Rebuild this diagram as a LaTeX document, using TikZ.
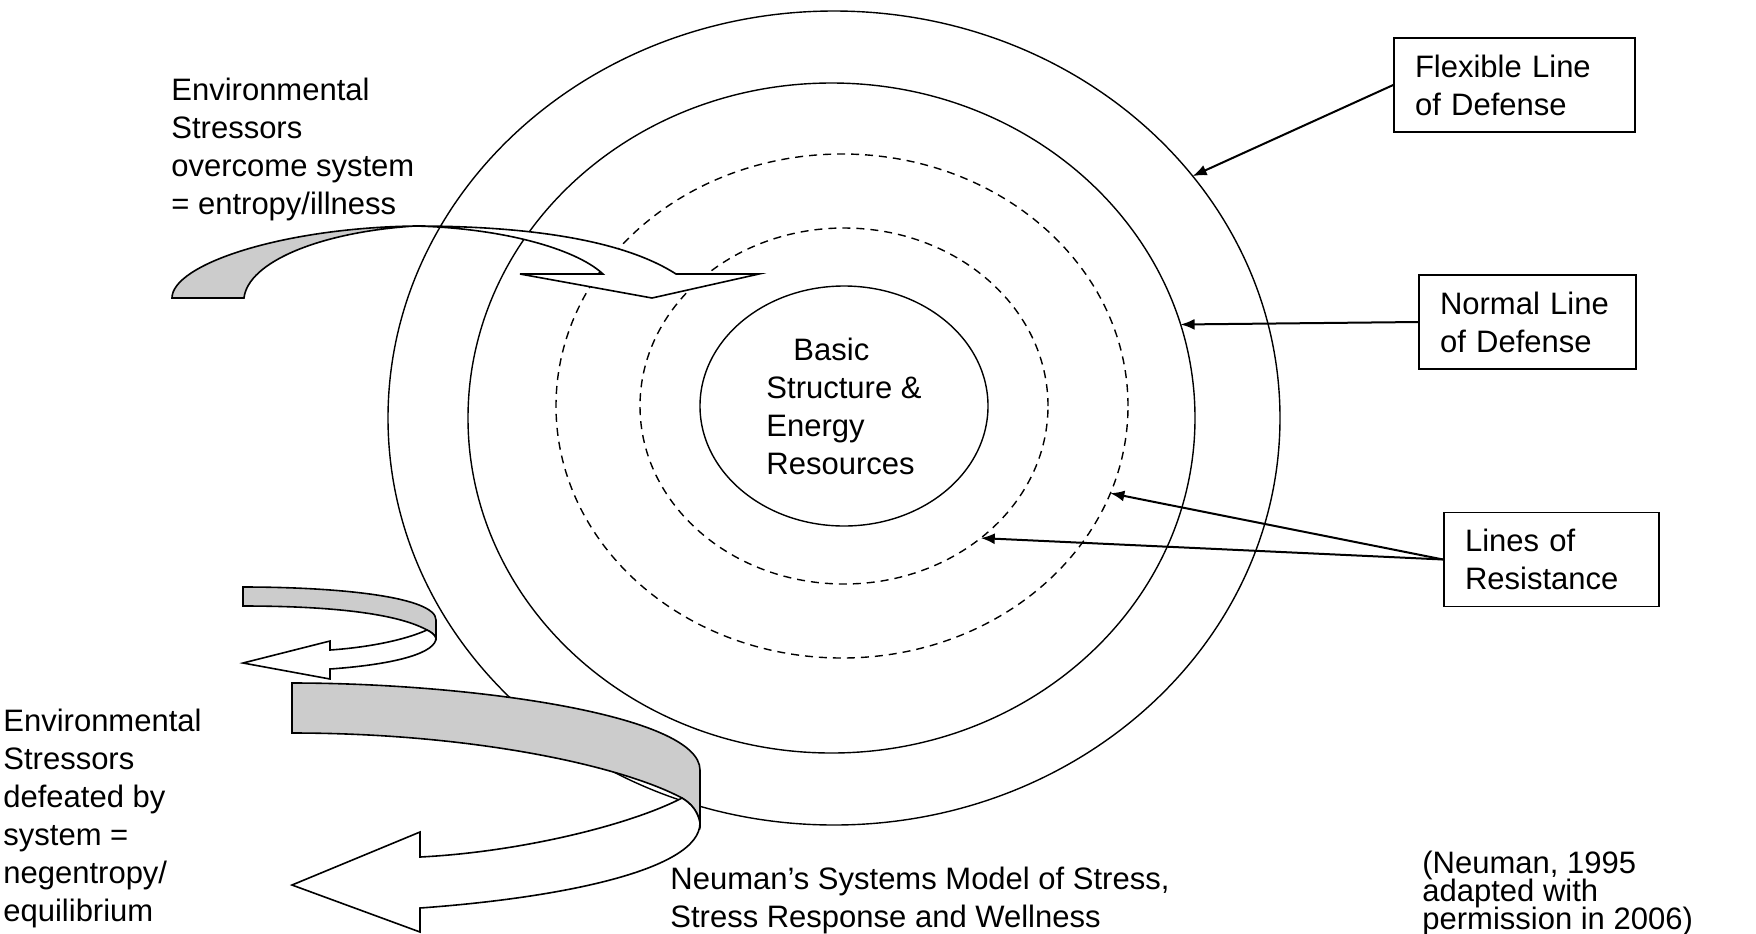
\documentclass[tikz,border=0pt]{standalone}
\usepackage{fontspec}
\setmainfont{Liberation Sans}
\usetikzlibrary{shapes.geometric,arrows.meta}
\newcommand\citesizefont{\fontsize{15.5pt}{14pt}\selectfont\lineskiplimit=-20pt\relax\lineskip=0pt\relax}
\begin{document}
\begin{tikzpicture}[x=0.5pt,y=-0.5pt,
  every node/.style={font=\fontsize{15.5pt}{19pt}\selectfont},
  ring/.style={draw, ellipse, line width=0.7pt, inner sep=0pt, outer sep=0pt},
  dashring/.style={ring, dash pattern=on 4pt off 3pt},
  txt/.style={align=left, anchor=north west, inner sep=0pt},
  box/.style={draw, line width=0.8pt, rectangle, align=left, inner xsep=10.5pt, inner ysep=0pt, minimum height=47pt},
  conn/.style={line width=1pt, -{Latex[length=7pt,width=5.5pt]}},
  tailfill/.style={fill=black!20, draw, line width=0.8pt},
  headfill/.style={fill=white, draw, line width=0.8pt}
]
\useasboundingbox (0,0) rectangle (1756,933);

% concentric rings
\node[ring, minimum width=446pt, minimum height=407pt] (flexring) at (834,418) {};
\node[ring, minimum width=363.5pt, minimum height=335pt] (normring) at (831.5,418) {};
\node[dashring, minimum width=286pt, minimum height=252pt] (resA) at (842,406) {};
\node[dashring, minimum width=204pt, minimum height=178pt] (resB) at (844,406) {};
\node[ring, minimum width=144pt, minimum height=120pt, align=left] (core) at (844,406)
  {\hspace{13.5pt}Basic\\Structure \&\\Energy\\Resources};

% top curved arrow (entropy)
\draw[tailfill] (172,298) .. controls (172,265) and (280,228) .. (415,226)
  .. controls (320,232) and (248,262) .. (244,298) -- cycle;
\draw[headfill] (415,226) .. controls (520,226) and (620,238) .. (676,274)
  -- (759,274) -- (652,298) -- (520,274) -- (603,274)
  .. controls (575,248) and (500,228) .. (415,226) -- cycle;

% small bottom arrow
\draw[tailfill] (243,587) .. controls (340,587) and (436,597) .. (436,620) -- (436,638)
  .. controls (434,634) and (431,632) .. (427,630)
  .. controls (400,615) and (340,606) .. (243,606) -- cycle;
\draw[headfill] (427,630) .. controls (431,632) and (434,634) .. (436,638)
  .. controls (436,652) and (400,664) .. (330,669) -- (330,679) -- (243,663) -- (330,641) -- (330,650)
  .. controls (360,648) and (400,642) .. (427,630) -- cycle;

% big bottom arrow
\draw[tailfill] (292,683) .. controls (470,683) and (700,715) .. (700,770) -- (700,823)
  .. controls (698,812) and (692,804) .. (682,798)
  .. controls (620,765) and (470,733) .. (292,733) -- cycle;
\draw[headfill] (682,798) .. controls (692,804) and (698,812) .. (700,823)
  .. controls (700,870) and (560,898) .. (420,908) -- (420,932) -- (292,885) -- (420,832) -- (420,857)
  .. controls (520,852) and (630,825) .. (682,798) -- cycle;

% texts
\node[txt] (stressIn) at (171,78) {Environmental\\Stressors\\overcome system\\= entropy/illness};
\node[txt] (stressOut) at (3,709) {Environmental\\Stressors\\defeated by\\system =\\negentropy/\\equilibrium};
\node[txt] (caption) at (670,867) {Neuman’s Systems Model of Stress,\\Stress Response and Wellness};
\node[txt, font=\citesizefont] (cite) at (1422,851)
  {(Neuman, 1995\\adapted with\\permission in 2006)};

% boxes
\node[box, text width=99.5pt] (flex) at (1514.5,85) {Flexible Line\\of Defense};
\node[box, text width=87.5pt] (normal) at (1527.5,322) {Normal Line\\of Defense};
\node[box, text width=86.5pt] (lines) at (1551.5,559.5) {Lines of\\Resistance};

% connectors
\draw[conn] (flex.west) -- (flexring.34);
\draw[conn] (normal.west) -- (normring.15.4);
\draw[conn] (lines.west) -- (resA.-18);
\draw[conn] (lines.west) -- (resB.-44);
\end{tikzpicture}
\end{document}
